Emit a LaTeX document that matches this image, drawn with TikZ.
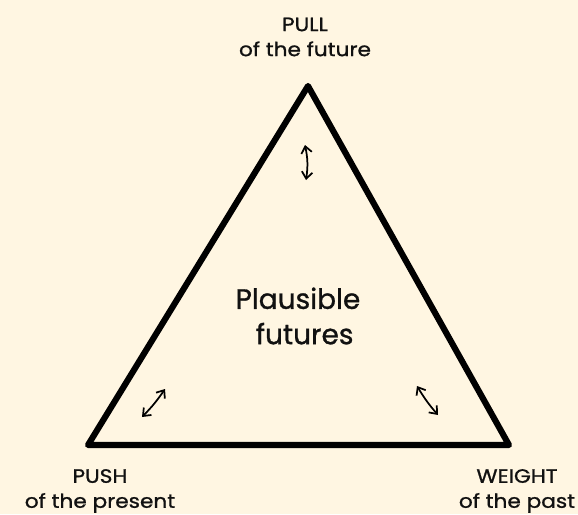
\documentclass[tikz,border=0pt]{standalone}
\usepackage{fontspec}
\setmainfont{Poppins}[FakeBold=1]
\newfontfamily\lblfont{Poppins}[FakeStretch=1.12,FakeBold=1]
\usetikzlibrary{arrows.meta}
\definecolor{bg}{HTML}{FFF6E2}
\definecolor{ink}{HTML}{111111}
\begin{document}
\begin{tikzpicture}[x=0.75pt,y=-0.75pt,
  lbl/.style={align=center,font=\lblfont\fontsize{14.5}{18.75}\selectfont,text=ink,inner sep=0pt},
  big/.style={align=center,font=\fontsize{21}{26.5}\selectfont,text=ink,inner sep=0pt},
  tri/.style={draw=black,line width=4.6pt,line join=round,line cap=round},
  dbl/.style={black,line width=1.3pt,{Straight Barb[length=5pt,width=8pt]}-{Straight Barb[length=5pt,width=8pt]}}]
\fill[bg] (0,0) rectangle (578,514);
\useasboundingbox (0,0) rectangle (578,514);
\coordinate (T) at (308,86);
\coordinate (L) at (88,445);
\coordinate (R) at (509,445);
\draw[tri] (T) -- (L) -- (R) -- cycle;
\node[lbl] (pull) at (305,37) {PULL\\of the future};
\node[lbl] (push) at (100,491) {PUSH\\of the present};
\node[lbl] (weight) at (517,491) {WEIGHT\\of the past};
\node[big] (center) at (298,316) {Plausible\\\hspace*{10pt}futures};
\coordinate (a1) at (305,145);
\coordinate (a2) at (306,180);
\coordinate (b1) at (142,417);
\coordinate (b2) at (165,389);
\coordinate (c1) at (417,386);
\coordinate (c2) at (438,415);
\draw[dbl] (a1) to[bend left=10] (a2);
\draw[dbl] (b1) to[bend right=5] (b2);
\draw[dbl] (c1) to[bend right=5] (c2);
\end{tikzpicture}
\end{document}
